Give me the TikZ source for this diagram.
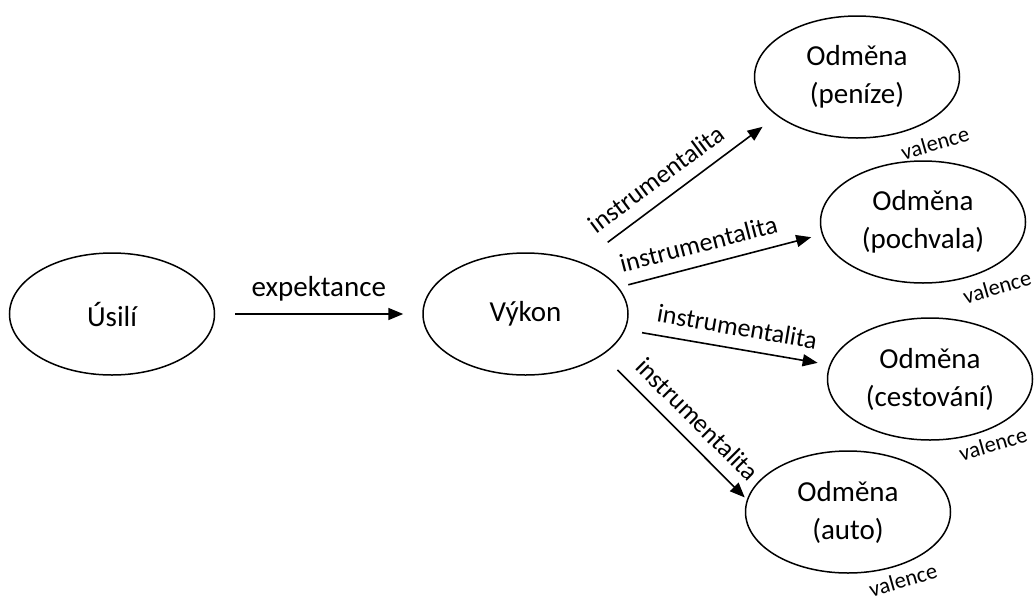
\documentclass[tikz,border=0pt]{standalone}
\usepackage{fontspec}
\setmainfont{Carlito}
\usepackage{tikz}
\usetikzlibrary{positioning,shapes.geometric,arrows.meta}

\begin{document}
\begin{tikzpicture}[x=1pt, y=-1pt, node distance=207pt, every node/.style={align=center},
    oval/.style={draw, ellipse, line width=1.5pt, inner sep=0pt, minimum width=205pt, minimum height=122pt, font=\fontsize{29}{38}\selectfont},
    link/.style={line width=1.6pt, -{Triangle[length=15pt, width=12pt]}},
    instr/.style={sloped, above=12pt, inner sep=0pt, font=\fontsize{26}{30}\selectfont},
    val/.style={rotate=16, inner sep=0pt, font=\fontsize{22.5}{26}\selectfont}]
      \useasboundingbox (0,0) rectangle (1034,598);
      % Nodes
      \node[oval] (usili) at (112,314) {Úsilí};
      \node[oval, right=of usili] (vykon) {Výkon};
      \node[oval] (penize) at (857,77) {Odměna\\(peníze)};
      \node[oval] (pochvala) at (923,222) {Odměna\\(pochvala)};
      \node[oval] (cestovani) at (930,379) {Odměna\\(cestování)};
      \node[oval] (auto) at (848,512) {Odměna\\(auto)};
      % Valence
      \node[val] (valpenize) at (935,143) {valence};
      \node[val] (valpochvala) at (997,287) {valence};
      \node[val] (valcestovani) at (993,444) {valence};
      \node[val] (valauto) at (903,580) {valence};
      % Arrows
      \draw[link, shorten <=20pt, shorten >=19pt] (usili) -- node[above=9pt, font=\fontsize{29}{34}\selectfont] {expektance} (vykon);
      \draw[link, shorten <=33pt, shorten >=18pt] (vykon.43.7) -- node[instr, pos=0.45] {instrumentalita} (penize.206.4);
      \draw[link, shorten <=10pt, shorten >=11pt] (vykon.16.7) -- node[instr, pos=0.42] {instrumentalita} (pochvala.187.7);
      \draw[link, shorten <=17pt, shorten >=12pt] (vykon.351.6) -- node[instr, pos=0.53] {instrumentalita} (cestovani.172.2);
      \draw[link, shorten <=21pt, shorten >=3pt] (vykon.332.1) -- node[instr, pos=0.55] {instrumentalita} (auto.173.3);
    \end{tikzpicture}
\end{document}
